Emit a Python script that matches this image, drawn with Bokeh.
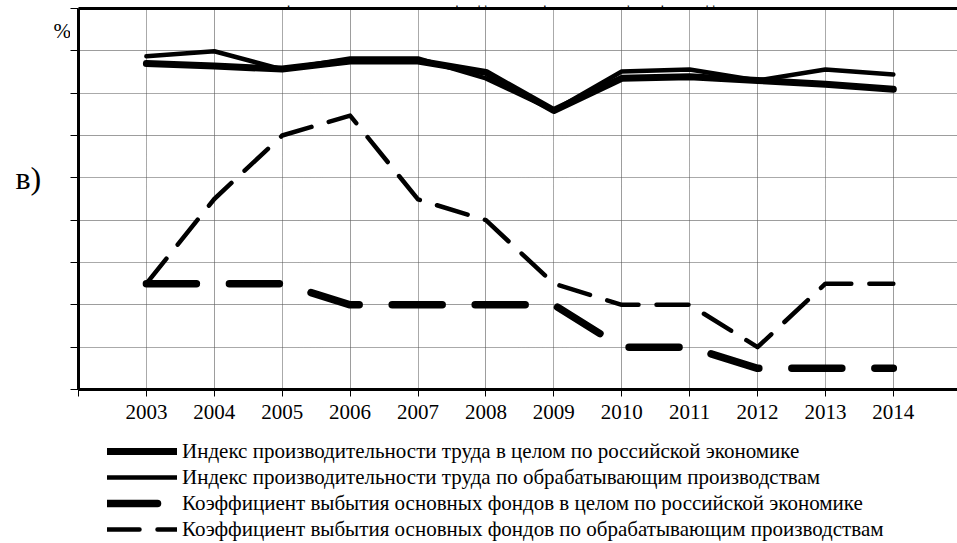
from bokeh.plotting import figure
from bokeh.layouts import column, row
from bokeh.models import (FixedTicker, LinearAxis, Legend, LegendItem, Label, Range1d, Grid)
from bokeh.embed import file_html
from bokeh.resources import INLINE

years = [2003, 2004, 2005, 2006, 2007, 2008, 2009, 2010, 2011, 2012, 2013, 2014]
labor_total = [7.70, 7.64, 7.57, 7.76, 7.76, 7.49, 6.59, 7.35, 7.39, 7.30, 7.21, 7.09]
labor_manuf = [7.87, 7.99, 7.56, 7.82, 7.82, 7.35, 6.59, 7.51, 7.56, 7.30, 7.56, 7.44]
retire_total = [2.5, 2.5, 2.5, 2.0, 2.0, 2.0, 2.0, 1.0, 1.0, 0.5, 0.5, 0.5]
retire_manuf = [2.5, 4.5, 6.0, 6.47, 4.49, 4.0, 2.5, 2.0, 2.0, 1.0, 2.5, 2.5]

x_ticks = list(range(2002, 2016))
y_ticks = list(range(0, 10))

names = [
    "Индекс производительности труда в целом по российской экономике",
    "Индекс производительности труда по обрабатывающим производствам",
    "Коэффициент выбытия основных фондов в целом по российской экономике",
    "Коэффициент выбытия основных фондов по обрабатывающим производствам",
]
title_text = "Темп роста объема основных фондов по обрабатывающим производствам"

FONT = "Liberation Serif"
W = 957
STRIP_H = 7          # title strip (page y 0..7)
MID_H = 423          # chart row (page y 7..430)
LEG_H = 543 - STRIP_H - MID_H
LEFT_W = 70
FB = 389             # page y of frame bottom


def blank(width, height):
    f = figure(width=width, height=height, x_range=Range1d(0, 1), y_range=Range1d(0, 1),
               output_backend="svg", toolbar_location=None,
               x_axis_location=None, y_axis_location=None, min_border=0)
    f.outline_line_color = None
    f.background_fill_color = "white"
    f.border_fill_color = "white"
    f.grid.visible = False
    return f


# ---- main chart
p = figure(width=W - LEFT_W, height=MID_H, x_range=Range1d(2002, 2014.945), y_range=Range1d(0, 9),
           output_backend="svg", toolbar_location=None,
           x_axis_location=None, y_axis_location=None,
           min_border_left=78 - LEFT_W, min_border_right=0, min_border_top=8 - STRIP_H,
           min_border_bottom=STRIP_H + MID_H - FB)
p.outline_line_color = None
p.background_fill_color = "white"
p.border_fill_color = "white"

vg = Grid(dimension=0, ticker=FixedTicker(ticks=x_ticks[1:]))
hg = Grid(dimension=1, ticker=FixedTicker(ticks=y_ticks[1:]))
for g in (vg, hg):
    g.grid_line_color = "#555555"
    g.grid_line_dash = "1 1"
    g.grid_line_width = 1
    p.add_layout(g, "center")

xaxis = LinearAxis(ticker=FixedTicker(ticks=x_ticks),
                   major_label_overrides={2002: "", 2015: ""})
xaxis.axis_line_width = 3
xaxis.major_tick_out = 7
xaxis.major_tick_in = 0
xaxis.minor_tick_out = 0
xaxis.major_label_standoff = 8
xaxis.major_label_text_font = FONT
xaxis.major_label_text_font_size = "21px"
xaxis.major_label_text_color = "black"
p.add_layout(xaxis, "below")

yaxis = LinearAxis(ticker=FixedTicker(ticks=y_ticks),
                   major_label_overrides={t: "" for t in y_ticks})
yaxis.axis_line_width = 3
yaxis.major_tick_out = 8
yaxis.major_tick_in = 0
yaxis.minor_tick_out = 0
yaxis.major_label_standoff = 0
yaxis.major_label_text_font_size = "1px"
p.add_layout(yaxis, "left")

topaxis = LinearAxis(ticker=FixedTicker(ticks=[]))
topaxis.axis_line_width = 3
topaxis.major_tick_out = 0
topaxis.minor_tick_out = 0
topaxis.major_label_standoff = 0
p.add_layout(topaxis, "above")

styles = [
    dict(line_width=7),
    dict(line_width=4.5),
    dict(line_width=7.5, line_dash="50 33"),
    dict(line_width=4.5, line_dash="32 18"),
]
series = [labor_total, labor_manuf, retire_total, retire_manuf]
for vals, st in zip(series, styles):
    p.line(years, vals, line_color="black", line_join="round", line_cap="round", **st)

# ---- left strip with "%" and "в)" (its frame is aligned with the chart frame: page y 8..389)
left = blank(LEFT_W, MID_H)
for text, px, py, size in [("%", 53, 30, "21px"), ("в)", 15, 177, "32px")]:
    left.add_layout(Label(x=px, y=FB - py, x_units="screen", y_units="screen",
                          text=text, text_font=FONT, text_font_size=size,
                          text_color="black", text_baseline="middle"))

# ---- title strip (cut at the page top, as in the source)
top = blank(W, STRIP_H)
top.add_layout(Label(x=500, y=13, x_units="screen", y_units="screen", text=title_text,
                     text_font=FONT, text_font_size="16px", text_align="center",
                     text_color="black", text_baseline="alphabetic"))

# ---- legend strip (series drawn out of view, used only for the legend glyphs)
leg = blank(W, LEG_H)
items = []
for name, vals, st in zip(names, series, styles):
    r = leg.line(years, vals, line_color="black", line_join="round", line_cap="round", **st)
    items.append(LegendItem(label=name, renderers=[r]))
legend = Legend(items=items, location=(107, LEG_H - 8 - 4 * 26), glyph_width=70, glyph_height=26,
                label_standoff=5, spacing=0, padding=0, margin=0, border_line_color=None,
                background_fill_alpha=0, label_text_font=FONT, label_text_font_size="21px",
                label_text_color="black", label_height=26)
leg.add_layout(legend, "center")

layout = column(top, row(left, p, spacing=0), leg, spacing=0)
open("out.html", "w").write(file_html(layout, INLINE))
